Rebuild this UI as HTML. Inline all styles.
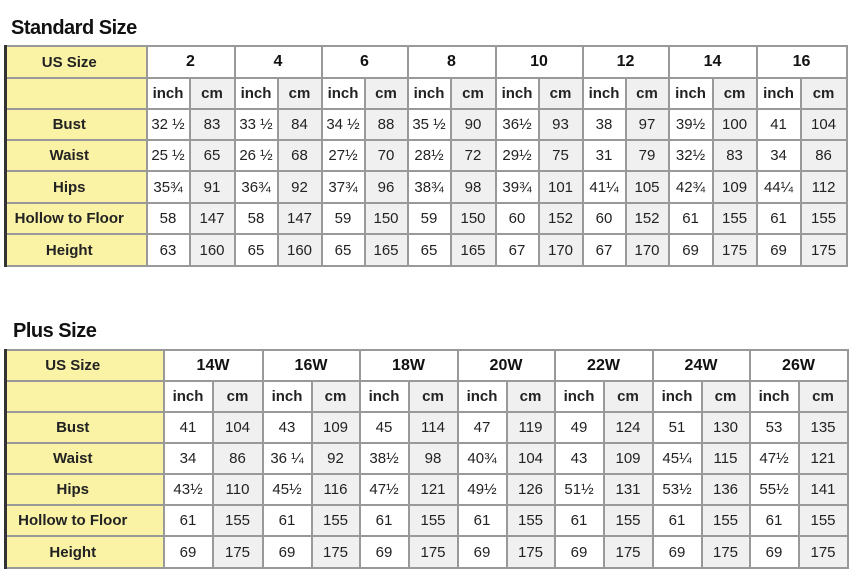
<!DOCTYPE html>
<html><head><meta charset="utf-8"><style>
body{margin:0;width:850px;height:586px;background:#fff;font-family:"Liberation Sans",Arial,sans-serif;position:relative;overflow:hidden}
.t{position:absolute;font-size:20px;font-weight:bold;color:#111;letter-spacing:-0.5px}
table{position:absolute;border-collapse:collapse;table-layout:fixed;border-left:3px solid #333}
td{border:2px solid #999;padding:0;text-align:center;font-size:15px;color:#222;overflow:hidden;white-space:nowrap}
td.l{background:#faf3a6;font-weight:bold;font-size:15px;border-color:#999}
.s td.l{padding-right:14px}
.p td.l{padding-right:24px}
td.g{font-size:16px;font-weight:bold;color:#111}
td.c{background:#f0f0f0}
tr.u td{font-size:15px;font-weight:bold}
</style></head><body>
<div class="t" style="left:11px;top:17px">Standard Size</div>
<table class="s" style="left:4px;top:45px;width:842px">
<colgroup><col style="width:141px"><col style="width:43px"><col style="width:45px"><col style="width:43px"><col style="width:44px"><col style="width:43px"><col style="width:43px"><col style="width:43px"><col style="width:45px"><col style="width:43px"><col style="width:44px"><col style="width:43px"><col style="width:43px"><col style="width:44px"><col style="width:44px"><col style="width:44px"><col style="width:46px"></colgroup>
<tr style="height:32px"><td class="l">US Size</td><td colspan="2" class="g">2</td><td colspan="2" class="g">4</td><td colspan="2" class="g">6</td><td colspan="2" class="g">8</td><td colspan="2" class="g">10</td><td colspan="2" class="g">12</td><td colspan="2" class="g">14</td><td colspan="2" class="g">16</td></tr>
<tr class="u" style="height:31px"><td class="l"></td><td>inch</td><td class="c">cm</td><td>inch</td><td class="c">cm</td><td>inch</td><td class="c">cm</td><td>inch</td><td class="c">cm</td><td>inch</td><td class="c">cm</td><td>inch</td><td class="c">cm</td><td>inch</td><td class="c">cm</td><td>inch</td><td class="c">cm</td></tr>
<tr style="height:31px"><td class="l">Bust</td><td>32 ½</td><td class="c">83</td><td>33 ½</td><td class="c">84</td><td>34 ½</td><td class="c">88</td><td>35 ½</td><td class="c">90</td><td>36½</td><td class="c">93</td><td>38</td><td class="c">97</td><td>39½</td><td class="c">100</td><td>41</td><td class="c">104</td></tr>
<tr style="height:31px"><td class="l">Waist</td><td>25 ½</td><td class="c">65</td><td>26 ½</td><td class="c">68</td><td>27½</td><td class="c">70</td><td>28½</td><td class="c">72</td><td>29½</td><td class="c">75</td><td>31</td><td class="c">79</td><td>32½</td><td class="c">83</td><td>34</td><td class="c">86</td></tr>
<tr style="height:32px"><td class="l">Hips</td><td>35¾</td><td class="c">91</td><td>36¾</td><td class="c">92</td><td>37¾</td><td class="c">96</td><td>38¾</td><td class="c">98</td><td>39¾</td><td class="c">101</td><td>41¼</td><td class="c">105</td><td>42¾</td><td class="c">109</td><td>44¼</td><td class="c">112</td></tr>
<tr style="height:31px"><td class="l">Hollow to Floor</td><td>58</td><td class="c">147</td><td>58</td><td class="c">147</td><td>59</td><td class="c">150</td><td>59</td><td class="c">150</td><td>60</td><td class="c">152</td><td>60</td><td class="c">152</td><td>61</td><td class="c">155</td><td>61</td><td class="c">155</td></tr>
<tr style="height:32px"><td class="l">Height</td><td>63</td><td class="c">160</td><td>65</td><td class="c">160</td><td>65</td><td class="c">165</td><td>65</td><td class="c">165</td><td>67</td><td class="c">170</td><td>67</td><td class="c">170</td><td>69</td><td class="c">175</td><td>69</td><td class="c">175</td></tr>
</table>

<div class="t" style="left:13px;top:320px">Plus Size</div>
<table class="p" style="left:4px;top:349px;width:842px">
<colgroup><col style="width:158px"><col style="width:49px"><col style="width:50px"><col style="width:49px"><col style="width:48px"><col style="width:49px"><col style="width:49px"><col style="width:49px"><col style="width:48px"><col style="width:49px"><col style="width:49px"><col style="width:49px"><col style="width:48px"><col style="width:49px"><col style="width:49px"></colgroup>
<tr style="height:31px"><td class="l">US Size</td><td colspan="2" class="g">14W</td><td colspan="2" class="g">16W</td><td colspan="2" class="g">18W</td><td colspan="2" class="g">20W</td><td colspan="2" class="g">22W</td><td colspan="2" class="g">24W</td><td colspan="2" class="g">26W</td></tr>
<tr class="u" style="height:31px"><td class="l"></td><td>inch</td><td class="c">cm</td><td>inch</td><td class="c">cm</td><td>inch</td><td class="c">cm</td><td>inch</td><td class="c">cm</td><td>inch</td><td class="c">cm</td><td>inch</td><td class="c">cm</td><td>inch</td><td class="c">cm</td></tr>
<tr style="height:31px"><td class="l">Bust</td><td>41</td><td class="c">104</td><td>43</td><td class="c">109</td><td>45</td><td class="c">114</td><td>47</td><td class="c">119</td><td>49</td><td class="c">124</td><td>51</td><td class="c">130</td><td>53</td><td class="c">135</td></tr>
<tr style="height:31px"><td class="l">Waist</td><td>34</td><td class="c">86</td><td>36 ¼</td><td class="c">92</td><td>38½</td><td class="c">98</td><td>40¾</td><td class="c">104</td><td>43</td><td class="c">109</td><td>45¼</td><td class="c">115</td><td>47½</td><td class="c">121</td></tr>
<tr style="height:31px"><td class="l">Hips</td><td>43½</td><td class="c">110</td><td>45½</td><td class="c">116</td><td>47½</td><td class="c">121</td><td>49½</td><td class="c">126</td><td>51½</td><td class="c">131</td><td>53½</td><td class="c">136</td><td>55½</td><td class="c">141</td></tr>
<tr style="height:31px"><td class="l">Hollow to Floor</td><td>61</td><td class="c">155</td><td>61</td><td class="c">155</td><td>61</td><td class="c">155</td><td>61</td><td class="c">155</td><td>61</td><td class="c">155</td><td>61</td><td class="c">155</td><td>61</td><td class="c">155</td></tr>
<tr style="height:32px"><td class="l">Height</td><td>69</td><td class="c">175</td><td>69</td><td class="c">175</td><td>69</td><td class="c">175</td><td>69</td><td class="c">175</td><td>69</td><td class="c">175</td><td>69</td><td class="c">175</td><td>69</td><td class="c">175</td></tr>
</table>
</body></html>
